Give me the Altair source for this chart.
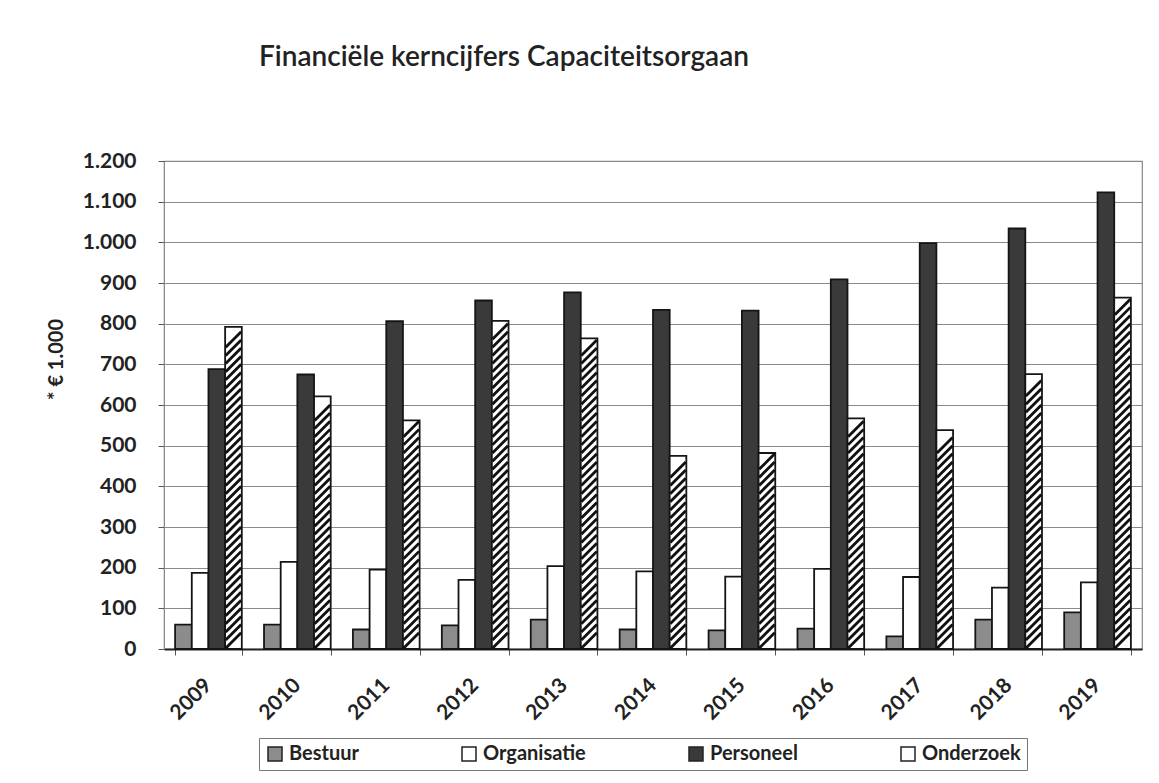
import altair as alt
import pandas as pd

years = ["2009", "2010", "2011", "2012", "2013", "2014", "2015", "2016", "2017", "2018", "2019"]
series = ["Bestuur", "Organisatie", "Personeel", "Onderzoek"]
bestuur = [60, 60, 48, 58, 72, 48, 46, 50, 31, 72, 90]
organisatie = [187, 214, 195, 170, 204, 191, 178, 197, 177, 151, 164]
personeel = [688, 675, 806, 857, 877, 834, 832, 909, 998, 1034, 1123]
onderzoek = [792, 621, 562, 807, 764, 475, 482, 567, 538, 676, 864]
y_ticks = [0, 100, 200, 300, 400, 500, 600, 700, 800, 900, 1000, 1100, 1200]

rows = []
for name, vals in zip(series, [bestuur, organisatie, personeel, onderzoek]):
    for yr, v in zip(years, vals):
        rows.append({"Jaar": yr, "Reeks": name, "Waarde": v})
df = pd.DataFrame(rows)

FONT = "Lato"
fills = ["#8c8c8c", "#ffffff", "#3a3a3a", "#ffffff"]

x_enc = alt.X("Jaar:N", sort=years,
              scale=alt.Scale(paddingInner=0.25, paddingOuter=0.125),
              axis=alt.Axis(title=None, labelAngle=-45, tickBand="extent",
                            domainColor="#222", domainWidth=2, tickColor="#555",
                            tickSize=6, labelFont=FONT, labelFontSize=21,
                            labelFontWeight="bold", labelColor="#222",
                            labelPadding=19, labelOffset=-8))
xo_enc = alt.XOffset("Reeks:N", sort=series, scale=alt.Scale(domain=series, paddingInner=0, paddingOuter=0))
y_scale = alt.Scale(domain=[0, 1200], nice=False)

bars = alt.Chart(df).mark_bar(stroke="#151515", strokeWidth=1.8).encode(
    x=x_enc,
    xOffset=xo_enc,
    y=alt.Y("Waarde:Q", scale=y_scale,
            axis=alt.Axis(values=y_ticks,
                          labelExpr="replace(format(datum.value, ','), ',', '.')",
                          title="* € 1.000", titleFont=FONT, titleFontSize=20,
                          titleFontWeight="bold", titleColor="#222",
                          titleX=-108, titleY=198, titleAlign="center",
                          titleBaseline="middle", titleAngle=-90,
                          grid=True, gridColor="#8a8a8a", gridWidth=1.2,
                          domainColor="#8a8a8a", tickColor="#555", tickSize=6,
                          labelPadding=22, labelFont=FONT, labelFontSize=21,
                          labelFontWeight="bold", labelColor="#222")),
    color=alt.Color("Reeks:N", sort=series,
                    scale=alt.Scale(domain=series, range=fills),
                    legend=alt.Legend(orient="none", legendX=95, legendY=577,
                                      direction="horizontal", title=None,
                                      strokeColor="#777", padding=6,
                                      columnPadding=100, symbolType="square",
                                      symbolSize=196, symbolStrokeColor="#222",
                                      symbolStrokeWidth=1.5, labelFont=FONT,
                                      labelFontSize=20, labelFontWeight="bold",
                                      labelColor="#222", labelOffset=4)),
)

hatch = alt.Chart(df).transform_filter(
    alt.datum.Reeks == "Onderzoek"
).transform_calculate(
    streep="sequence(21, datum.Waarde - 20, 20)"
).transform_flatten(["streep"]).mark_point(
    shape="M-1,1L1,-1", size=240, filled=False, stroke="#111",
    strokeWidth=2.8, strokeCap="butt", opacity=1
).encode(
    x=alt.X("Jaar:N", sort=years),
    xOffset=xo_enc,
    y=alt.Y("streep:Q", scale=y_scale),
)

chart = alt.layer(bars, hatch).properties(
    width=978, height=488,
    title=alt.TitleParams("Financiële kerncijfers Capaciteitsorgaan", anchor="start",
                          frame="group", dx=95, offset=78, font=FONT, fontSize=28,
                          fontWeight=600, color="#222"),
    padding={"left": 38, "top": 36, "right": 5, "bottom": 5},
).configure_view(stroke="#888", strokeWidth=1.2)

chart.save("out.html", embed_options={"renderer": "svg", "actions": False})
